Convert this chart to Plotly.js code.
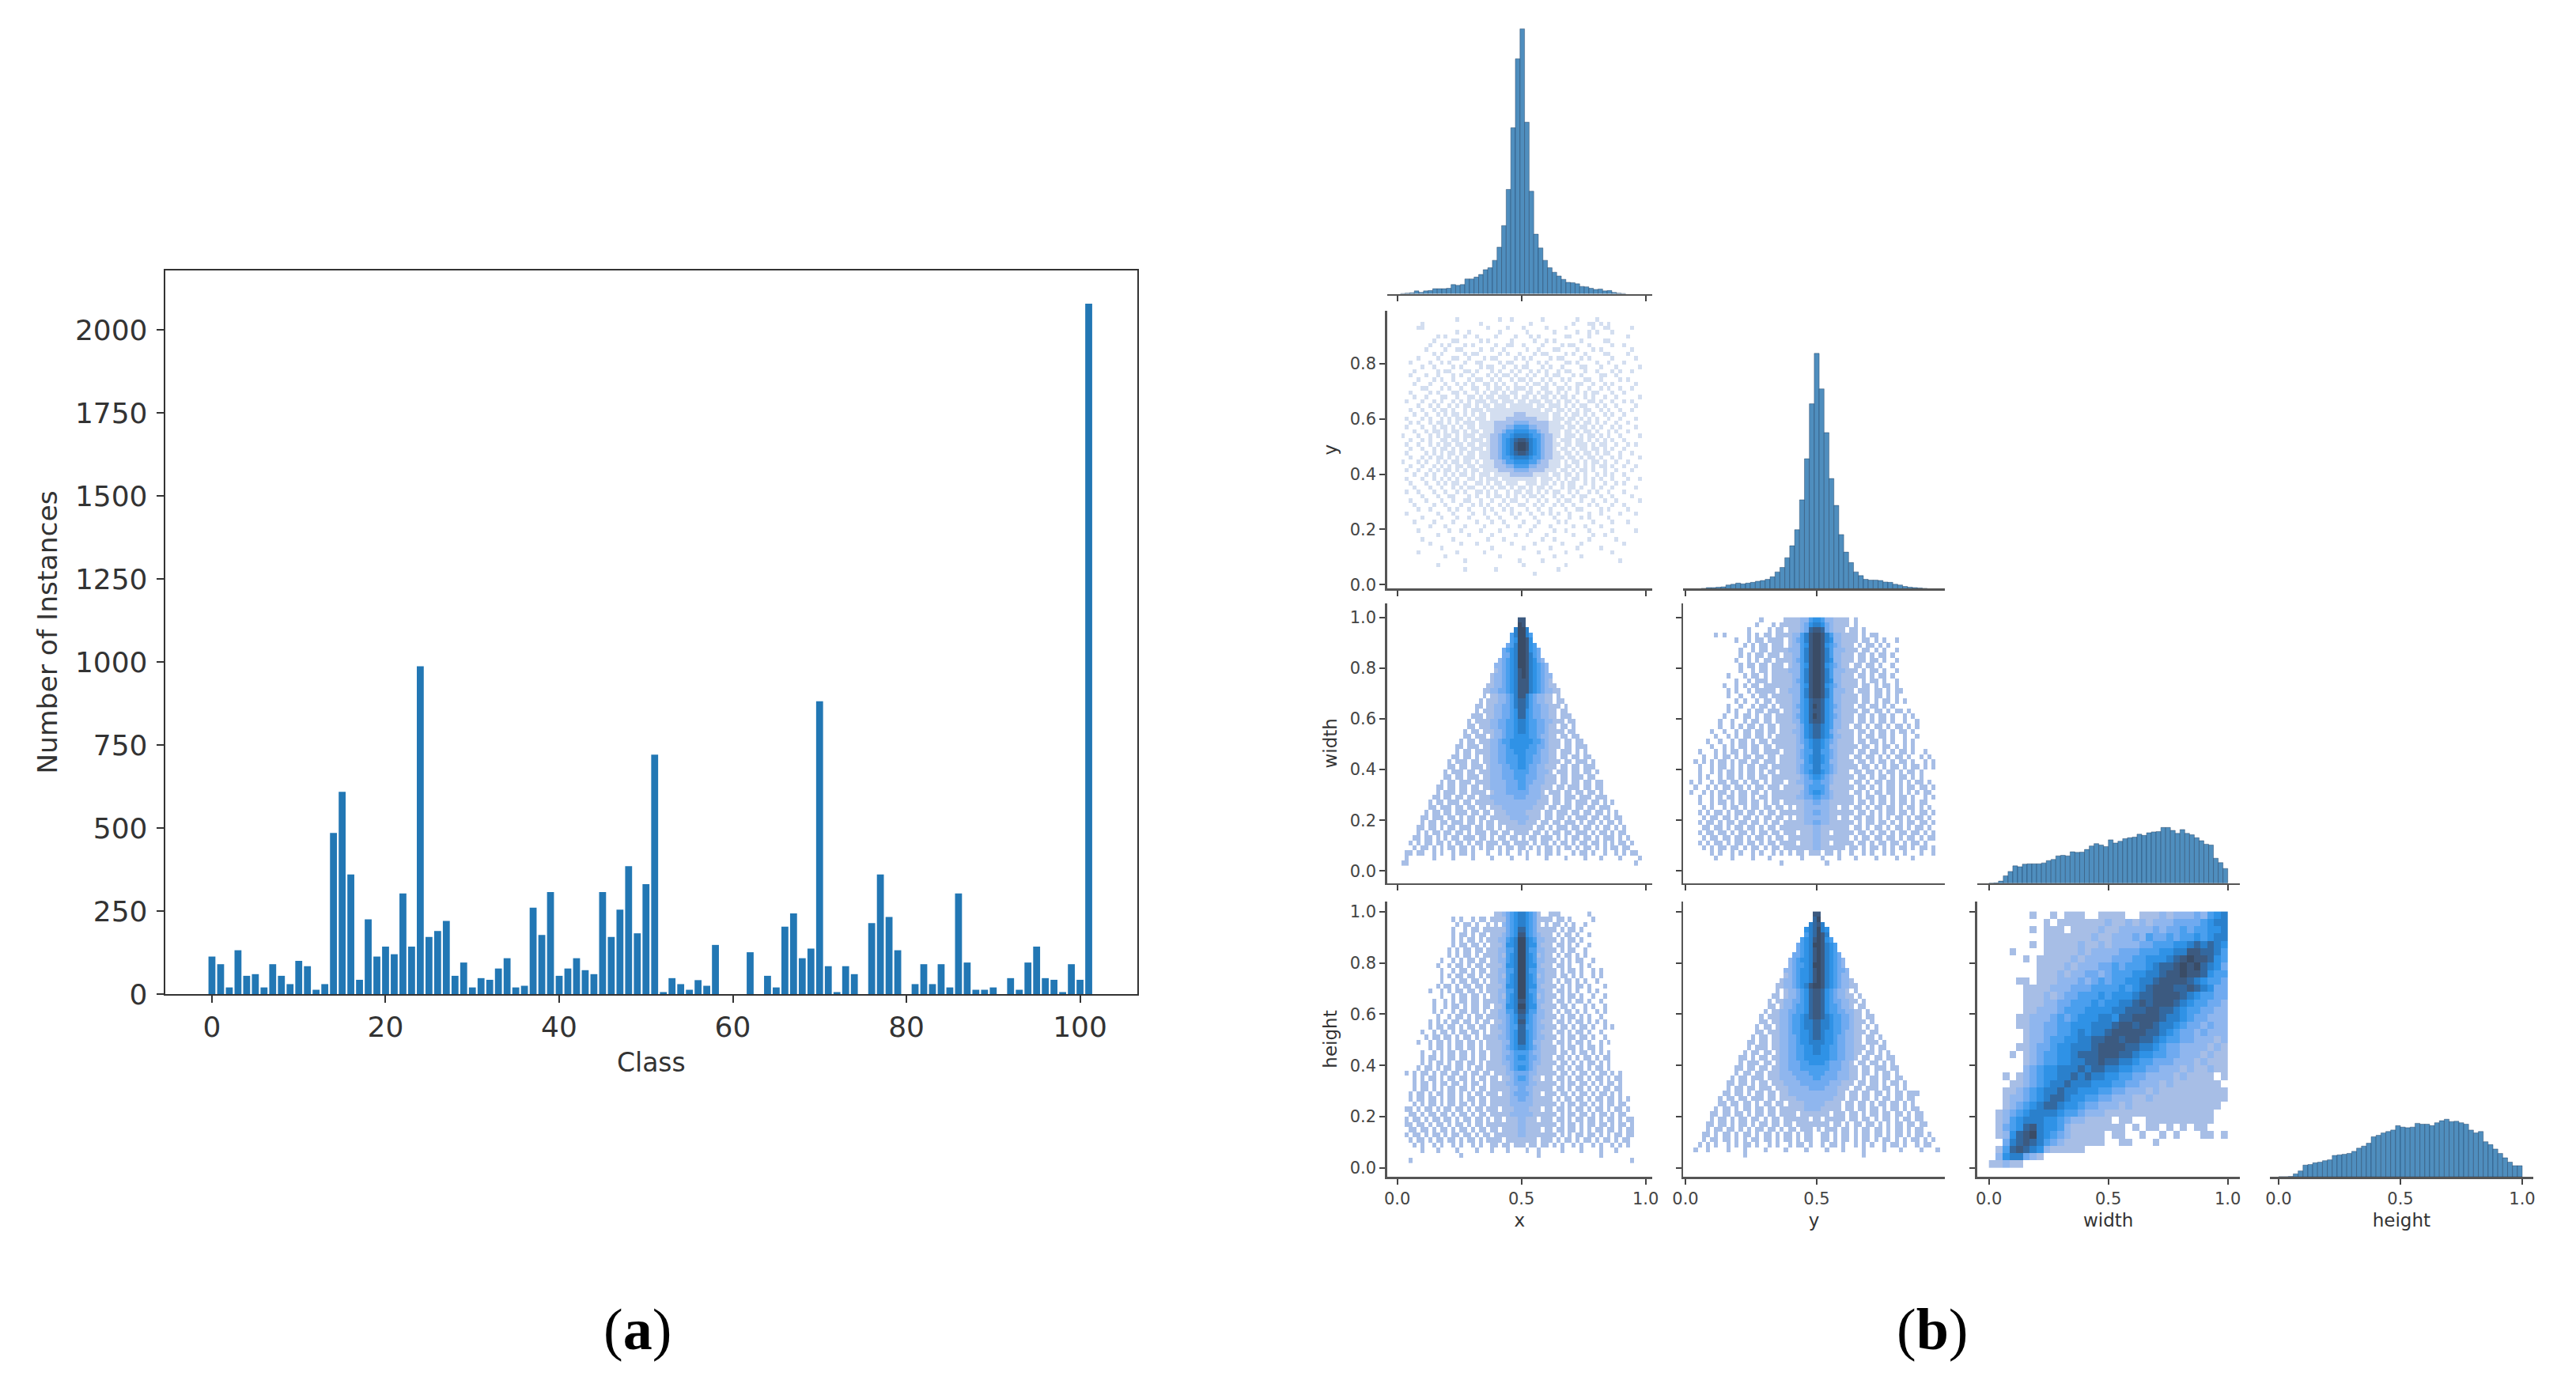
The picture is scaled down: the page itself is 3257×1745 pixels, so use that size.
<!DOCTYPE html>
<html><head><meta charset="utf-8">
<script src="https://cdn.plot.ly/plotly-3.0.1.min.js"></script>
<style>html,body{margin:0;padding:0;background:#fff}</style></head>
<body><div id="chart" style="width:3257px;height:1745px"></div>
<script>
// ---------- panel (a) ----------
const classValues = [113,90,20,132,55,60,20,90,55,30,100,84,13,30,485,609,360,43,225,113,143,120,303,143,987,172,190,220,55,95,20,48,43,77,108,20,25,260,178,307,55,77,108,72,60,307,172,254,385,183,331,721,6,48,30,13,42,25,148,0,0,0,126,0,55,20,203,243,108,137,882,84,6,84,60,0,214,360,232,132,0,30,90,30,90,20,303,95,13,13,20,0,48,13,95,143,48,43,6,90,43,2079];
const classTicks = [0,20,40,60,80,100];
const countTicks = [0,250,500,750,1000,1250,1500,1750,2000];

// ---------- panel (b) diagonal histograms (counts in arbitrary picture units) ----------
const xHist = [1,2,3,8,4,8,9,14,14,14,15,25,23,25,40,40,45,52,65,70,90,125,183,280,445,630,710,460,275,160,123,90,70,58,48,39,31,30,27,20,19,15,12,13,8,9,4,2,1];
const xHistStart = -26;
const yHist = [1,3,3,4,5,10,12,15,13,15,17,20,22,25,32,45,57,83,115,158,238,348,495,630,535,418,295,223,145,98,70,45,35,25,23,23,22,18,17,12,10,6,4,3,2,1];
const widthHist = [0,1,7,25,40,59,56,65,66,66,66,69,77,81,93,95,93,107,105,106,115,127,135,130,125,148,137,143,152,155,157,167,163,172,175,176,190,190,180,170,183,170,165,155,145,133,130,85,70,50];
const heightHist = [0,0,1,10,20,40,42,48,50,55,58,73,75,77,80,87,98,105,115,137,142,150,155,160,175,170,168,170,183,180,180,175,185,192,197,189,190,185,180,160,150,155,120,110,95,80,65,50,38,38];

// ---------- panel (b) 2-D histograms: one digit per cell, 0 = empty, 1..9 = darkness.
// Rows run top to bottom; "|" marks the middle of the panel.
const yVsXRows = [
"|","|",
"00000000000000010000000000100100|00000100000000100001000000000000",
"00000010000000000000010000000000|00100000000001000110101000000000",
"00000110000000000000000100001000|10000010000100000010011000001000",
"00000000000000010010000000100000|01000000100000100101000100000000",
"00000000001010000100100001000010|00101000000110000100000000010000",
"00000000010000110000010100000100|00010010100000010000011000000000",
"00000000100101000101000001001100|10000100001011000100000100100000",
"00000001000010011000010010010000|01001000110000100010100000001000",
"00000000010100000101100000101001|00010110000101001000011000010000",
"00000100001000110010001011000010|10100001011000010100000100000100",
"00010000100101000100110000101100|01001010000110100001001000100000",
"00000010010000101000010110010010|11000101001000011000100010000010",
"00001000001011000110100010100101|00101010010110001001000101001000",
"00010001001000101001000101011010|01010010110001010000110010000000",
"00000100010100100010110010100101|10100101001010001100100001010000",
"00001000100010010101001101010010|01011010100100110010010100000100",
"00000011000101001001100101101011|10100110011010100100101001001000",
"00010000101000110100101011010110|01101011010100101011000100100000",
"00001001000110010011010110111010|11010110101101001010010010000010",
"00100010010100101010111011011101|10111011010110100110100100101000",
"00000100101001010110101101110111|11101101110101011001010010000100",
"00010010010110100101110111111111|11111011011010101100101001001000",
"00001001001010110101011011111122|21111110110101101010010100100000",
"00100010100101011010111011112222|22221110111011010101001001000100",
"00010100101101010111011112222233|33222221110110101101010010010000",
"00100010010110101011011112223344|44332221111011011010100101000100",
"00001001011010110101101112234455|55443221110110101101001010010000",
"01000100101011010111011122344566|66544322110111010110101001000010",
"00010010100110110101110122345678|87654322101110110101010100100000",
"00100100101011011011011122345689|98654322110110111010110010010100",
"00010010010110101101110122345689|98654322101101011011010100100000",
"00100001010101101011011122345678|87654322110110101101011001001000",
"00010010101101010111011122344566|66544322111011010110100101000010",
"01000101001010110110101112234455|55443221110101101011010010010000",
"00010010010101011011011112223344|44332221110110101010110100100100",
"00100100101011010101101111222233|33222211101101011010010010001000",
"00001001010010101101011101111222|22211110110110101001010100100000",
"00100010010101010011010111011111|11110111010101101010100100010010",
"00010001001010110100110101101110|01110110101011001010010010100000",
"00001000100100101011001010110101|10101101001011010010100100000100",
"00100100010010010100110101001011|01101010110010100101001000100000",
"00000010001001100010100101101010|10110100101001011000100100001000",
"00010001000100100110010010010110|01001010010110010010010010000010",
"00001000010010001001010100101001|10010100101001000101000100100000",
"00000100100001010010001010010100|01001001000100110000101000010000",
"00100000001000100001001001000101|00100101010010000100100001000100",
"00000010000100010010000100100010|00010000100010010100001000000000",
"00001000010000100000100010010000|10001000010100000010000100010000",
"00000000100010000100001000001001|00010001000001001000100000000000",
"00000100000001001000010000100000|00100000100100000100000100000100",
"00000000001000000010000010000010|01000010000001000010010000000000",
"00000010000000100000000100010000|00000100100000000100000010000000",
"00000000100000001000100000000100|00010000001000010000000000100000",
"00000000000100000000000010000000|10000001000000100000100000000000",
"00000100000000010000001000000000|00001000000100000000000100000000",
"00000000000010000000000000100000|00000000100000010000000000000000",
"00000000000000000100000000000001|00000100000000000000000001000000",
"00000000001000000000000000000000|10000000000100000000000000000000",
"00000000000000000100000001000000|00000000010000000000000000000000",
"00000000000000000000000000000000|00010000000000000000000000000000",
"|","|"];

const widthXRows = [
"8|8","9|8","69|96","469|964","459|985","3469|9854","34569|98543","33569|98643","234569|986532","2234569|9865432","1234568|9865432",
"12234568|98654322","12234568|88654321","112234568|886543211","1122334568|8865432211",
"1011223468|8643221101","10111223467|76432211011","110112233467|764332211101","101112233457|754332211011",
"1110112233457|7543322110111","10111122334456|65443322111011","11011122334456|65443321101101",
"101101112234456|654433211110110","110111012234455|554432211011011","1011011122344555|5554432111011011",
"11011101122334555|55443321110110111","10110111122334455|54443221101110101","110110101122334445|544332211011011011",
"1011101101122334445|5443322111011011101","1101101110122233445|5433221110110110111","10111011011122233344|44332221011101101101",
"11011011101122233344|43332211101101110110","101101110111122223334|433222111011011011011","1101101101101122223334|432221110110111011011",
"1011101101111012223333|332221011101101101101","11011011011011122222233|3222211011011101110111","101101110110111112222222|222211101101101110110101",
"110111011011011011122222|222111011011101101101110","1011011011101101101112222|2111101101110110110110101","11011101101011011011111222|22111011011010111011011011",
"10110110111011010110111112|21110110110111010110101101","110110101101110110110101111|111011010111011011010110101","101011011011010111011011011|110110101101101110101101011",
"1101101010110111011010110110|1011011101010110110101110101","10101101101011010110111011011|11010110101101011011010101101","01011010101101101010110101101|10101011010110101101010110110",
"110110010100101101000100101001|010010110100010110100100101011","0100000010000100001000010000100|0100001000010000100010000100001","1100000000000000000000000000000|0000000000000000000000000000010"];

const widthYRows = [
"10000011112245|54221111010",
"100010111112356|6532111101",
"10000101101112378|87321110110100",
"1010000010101101111224689|9864221111010110000",
"001001011011110"+"1234689|9865221"+"11101101010010",
"0010101101110"+"1224589|9854321"+"1101011010100",
"0100101101111"+"2224689|9864222"+"1110110101001",
"00101011011101"+"1224689|9864221"+"11011010110100",
"1001010110111"+"1234689|9865221"+"1101101101001",
"0101101101110"+"1224589|9854321"+"1011011010010",
"00100101101111"+"2224689|9864222"+"1110101101001",
"100010110101111"+"1224689|9864221"+"11011010110100",
"001001011101111"+"1234689|9865221"+"11101011010010",
"1001010110111111"+"1224589|9854321"+"111011010110100",
"00101001011111011"+"2224689|9864222"+"110111011010110",
"0100100101101111"+"1224689|9864221"+"111011011010100",
"0001010010110111"+"1224578|8754221"+"111011010110101",
"100100101101011"+"1234579|8754321"+"11011011010100",
"00101001011011101"+"1224578|8754221"+"111011011010110100",
"01001011010110111"+"1234579|8754321"+"11011010110100101",
"10010010110110111"+"1224578|8754221"+"110110101101001001",
"010010101101011011"+"1123567|7654221"+"101101011010110101",
"1001001011011011011"+"1223567|7653211"+"110110101101011010",
"0100101011011010111"+"1123567|7654221"+"110101101101001001",
"10010010110101101111"+"1123456|6543211"+"1101101101010010100",
"001001010110110110111"+"1122456|6542211"+"1110110101101010100",
"1000101011010110111101"+"1123446|6443211"+"11011011010101101001",
"0100101101011011011011"+"1123456|6543211"+"101101101010110100101",
"10101011010110110111011"+"1122456|6542211"+"1101101011010110100101",
"01001011010101101101111"+"1123446|6443211"+"1110110101011010110101",
"1001010110101101011011"+"1123456|6543211"+"101101101011010110100",
"01010010110101101101111"+"1112345|5432111"+"11011010110101101010",
"101001011011010110101110"+"1122334|4332111"+"101101011011010101101",
"010010101101101011011101"+"1111344|4431111"+"1101101010110101101101",
"100101011010110110101111"+"1112345|5432111"+"1011010110110101010110",
"01001010110110101101111"+"1122334|4332111"+"1101011011010110100101",
"1001011010110110101101"+"1111223|3221111"+"110110101101011010110",
"0101001011010110110110"+"1011222|2221101"+"1011010110110101101010",
"1010110101101101011011"+"1111223|3221111"+"1101101010110110101101",
"0101101101011010110110"+"1011222|2221101"+"1011011010101101011010",
"1011010110110110101101"+"1111223|3221111"+"1101011011010101101101",
"0110110101101101011011"+"1111112|2111111"+"1011010110101101011010",
"1011011010110101101101"+"1101112|2110111"+"1101101011010110110101",
"0101101101101011010110"+"1111112|2111111"+"1010110110110101101011",
"1010110101101101011011"+"1101112|2110111"+"1101101011011010110100",
"0101011011010110101101"+"1111112|2111111"+"0110101101010110101101",
"0001010010100101001010"+"1011011|1011010"+"0100101001010010001001",
"0000100010000100010000"+"0001000|0100010"+"0010000100001000100000",
"00000100000000|00100000000000"];

const heightXRows = [
"1123456|6543100"+"1110000000100",
"10100101101"+"1113456|6543111"+"1011010000010",
"01011010010"+"1023456|6543101"+"01101010010",
"10010110111"+"1113457|7543111"+"11010110100",
"10110101101"+"1123458|8543211"+"10101101001",
"10101101011"+"1224569|9654221"+"11010110100",
"010110110101"+"1125569|9655211"+"101101010010",
"101011011011"+"1224469|9644221"+"110101100100",
"0101011010111"+"1214569|9654121"+"101011010100",
"10010101101101"+"1224569|9654221"+"1101010110010",
"0100101101011011"+"1125569|9655211"+"101101001010",
"10010110101101"+"1224469|9644221"+"11010110100101",
"010101101101011"+"1214569|9654121"+"110110101001010",
"10010110110101"+"1224569|9654221"+"10101101010010",
"0101101011011011"+"1125569|9655211"+"1101010110100010",
"10010101101101011"+"1224469|9644221"+"10110101001010",
"010010110110101"+"1214569|9654121"+"110101101001001",
"1001010110110111"+"1224568|8654221"+"101101011010010",
"01001011010110110"+"1125569|9655211"+"110110100101001",
"1010010110110101"+"1224468|8644221"+"101011010100101",
"0100101101011011"+"1223457|7543221"+"11010110101001",
"10101011011010110"+"1123458|8543211"+"1011010110101010",
"010110110101101101"+"1223447|7443221"+"11011010110100101",
"1001011010110110101"+"1123457|7543211"+"101101011010010",
"0101101101011010111"+"1223457|7543221"+"1101011011010010",
"10010110101101101011"+"1122457|7542211"+"10110101101001010",
"010110101101101011"+"1123456|6543211"+"1101011010110100",
"1001010110110101101"+"1122344|4432211"+"110110101101010100",
"01011010110110101101"+"1123345|5433211"+"10110101011010110",
"1010110101101101011"+"1122344|4432211"+"11011010101101010",
"010110101101101011011"+"1112345|5432111"+"101101011010110100",
"10101101011011010110110"+"1112233|3322111"+"1101101011010110101",
"0101011010110110101101"+"1011234|4321101"+"10110101101011010110",
"101101011011010110101"+"1112233|3322111"+"1101011011010101101",
"0101101010110110101101"+"1111223|3221111"+"10110101101010110110",
"1011010110110101011011"+"1011233|3321101"+"1101101011010110101",
"01011011010110101101101"+"1111223|3221111"+"101011011010110110101",
"101011010110110101101"+"1111222|2221111"+"11010110110101011011",
"11010110101101101011011"+"1011122|2211101"+"101101011010110101101",
"01101011011010110101101"+"1111222|2221111"+"110101101101011010110",
"10110101101101011011010"+"1101112|2111011"+"1011010110110101101011",
"11011010110101101011011"+"1111112|2111111"+"1101011010110110101101",
"01101101011010110101101"+"1011112|2111101"+"1011011010101101101011",
"10110101101011011010110"+"1111112|2111111"+"1101010110110101011011",
"01011010110110101101011"+"1101111|1111011"+"1010110101101011010110",
"00101001010010100101001"+"1011011|1011011"+"0101001010010100101010",
"00001000100001000010001"+"0001000|0100100"+"0001000010000100010000",
"00000001000000000000000|000010000000000000001000",
"10000000000000000000000000000|00000000000000000000000000001"];

const heightYRows = [
"8|8","7|9","67|86","567|965","467|986","4568|9854","34569|98654","34568|98654","334568|986543","2345568|9865432","2344569|9865432",
"22345568|98654332","12345568|98654322","122345568|986543221","1122345689|9865432211",
"1012234578|8754322101","11012234578|87543221101","101122334578|875433221101","110122344578|875443221011","1011223344578|8754433221101",
"10111223445678|87654433211011","11011223445667|76654433211101","101101223445667|766544332110101","110111223445567|765544322111011",
"1011011223345567|7655433221101101","11011011223345566|66554332211011101","10111011223344556|65544332211101011","101101101223344556|655443322110110101",
"1101011011223344555|5554433221011011011","1011101101223334455|5543332210110110101","11011011011223334444|44433322110110111011","10110110111222333344|44333222110110101101",
"101101110111222233334|433332221101011011011","1101101011011122223333|3332221110110110101101","1011011011101112222233|3322211101101110110101","11011010110110112222222|2222211011011011010110111",
"101101101110110111122222|222211101101101011011011","110110110101101101111222|221111011011010110110101","1011010110110110111111222|2111110110110110101101011","11011011010110110111101111|11101110110101101101101011",
"10110101101101011011111101|10111110110110101101011011","110110101101011011011011111|111011010110110101011011011","101101101010110110101101110|101110110101101101011010110","1101011010110101101011010110|0110101101011011010110101101",
"01011011010101101101011010110|01101011010110101101010110101","10101001010110100101001011010|01011010010101001011010010110","100100001000100001000010000100|001000100001000010001000010001","000000000000100000000000000000|000000000001000000000000000000"];

const heightWidthRows = [
"00000010010111001111001112122232456",
"00000000101111111211212122233334566",
"00000010111011112112222232334344556",
"00000000111111121122232433434454566",
"00000010111112112122223344455676765",
"00010000111112122223334445566887764",
"00000101111121222233344555678988754",
"00000001111212223343444567789897653",
"00000001112122332344455667889887544",
"00001101112223234344556678888765443",
"00000111122233344445456788877876533",
"00000111212334445455567788887654433",
"00000111223344454556678788876544332",
"00000112223444555566777887765443322",
"00001122234345556657788887665433222",
"00001122334455566678878876654332322",
"00000122334456566788888776543323222",
"00000122344556677887887765443322212",
"00001123345566678888776654332222121",
"00010123445567778887765544332221211",
"00000123445566778776654433322212111",
"00000234556667677665544332221211211",
"00101234556676766554433222212111101",
"00011234566766655544332221211111110",
"00112345667665554433222121111111111",
"00122345677655443322211211111111111",
"00123456776554332221211111111111110",
"01234566665443222111111111111111100",
"01245666554322111101100111111111100",
"01345786554211111111010110101011000",
"01257896543211111011001001010001101",
"00367876432111111001100010000000000",
"01478765211111000000000000000000000",
"02566321000000000000000000000000000",
"11211000000000000000000000000000000"];

// ---------- axis label lists ----------
const unitTicks = [0,0.5,1];
const unitTickText = ["0.0","0.5","1.0"];
const fifthTicks = [0,0.2,0.4,0.6,0.8,1];
const fifthText = ["0.0","0.2","0.4","0.6","0.8","1.0"];
const yFifthTicks = [0,0.2,0.4,0.6,0.8];
const yFifthText = ["0.0","0.2","0.4","0.6","0.8"];

// ---------- geometry in page pixels ----------
const W = 3257, H = 1745;
const cols = [
  {l:1753.8, r:2089,   range:[-0.0408,1.0268]},
  {l:2128,   r:2459,   range:[-0.009,0.988]},
  {l:2499.7, r:2831.6, range:[-0.0497,1.0493]},
  {l:2870,   r:3202.7, range:[-0.0357,1.0445]}];
const rows = [
  {t:35.6, b:371.6},
  {t:393,  b:744.4, range:[-0.015,0.992]},
  {t:763,  b:1116.7, range:[-0.048,1.055]},
  {t:1140, b:1488,  range:[-0.034,1.039]}];
const domX = (a,b)=>[a/W,b/W], domY = (t,b)=>[1-b/H,1-t/H];

function parseRows(list, n){
  return list.map(s=>{
    const out=new Array(n).fill(null);
    if(!s.includes('|') && s.length===n){
      for(let i=0;i<n;i++){ const c=+s[i]; if(c>0) out[i]=c; }
      return out;
    }
    const [left,right]=s.split('|');
    const half=Math.floor(n/2);
    for(let i=0;i<left.length&&i<half;i++){ const c=+left[left.length-1-i]; if(c>0) out[half-1-i]=c; }
    for(let i=0;i<right.length&&i<half;i++){ const c=+right[i]; if(c>0) out[half+i]=c; }
    return out;
  });
}
const cs = ["#a7bee6","#8fb6ee","#6faaf0","#4a9fee","#2f92e6","#2a80cc","#33689f","#3c5a80","#3a4c66"];
const cscale = cs.map((c,i)=>[i/8,c]);
const paleScale = ["#d3def0","#a7c0ec","#83b2ef","#4a9fee","#2f92e6","#2a80cc","#33689f","#3c5a80","#3a4c66"].map((c,i)=>[i/8,c]);

const data = [], layout = {
  width:W, height:H, margin:{l:0,r:0,t:0,b:0}, autosize:false, showlegend:false,
  paper_bgcolor:'#fff', plot_bgcolor:'rgba(0,0,0,0)', bargap:0.2,
  font:{family:'"DejaVu Sans"', color:'#333'}, annotations:[]
};

// panel (a)
data.push({type:'bar', x:classValues.map((_,i)=>i), y:classValues, width:0.8,
  marker:{color:'#2277b4',line:{width:0}}, xaxis:'x', yaxis:'y', hoverinfo:'skip'});
const bigTick = {ticks:'outside', ticklen:9, tickwidth:2, tickcolor:'#333', tickfont:{size:36,color:'#333',family:'"DejaVu Sans"'},
  showgrid:false, zeroline:false, showline:true, mirror:true, linecolor:'#333', linewidth:2, automargin:false};
layout.xaxis = Object.assign({}, bigTick, {domain:domX(208.7,1438), range:[-5.4,106.6], tickmode:'array', tickvals:classTicks, ticktext:classTicks.map(String),
  title:{text:'Class', font:{size:33,color:'#333'}, standoff:14}});
layout.yaxis = Object.assign({}, bigTick, {domain:domY(342,1257), range:[0,2179], tickmode:'array', tickvals:countTicks, ticktext:countTicks.map(String),
  ticklabelstandoff:4, title:{text:'Number of Instances', font:{size:34.5,color:'#333'}, standoff:12}});

// panel (b)
let axisIndex = 2;
function addCell(c, r, trace, opts){
  const k = axisIndex++;
  const xn = 'x'+k, yn = 'y'+k;
  trace.xaxis = xn; trace.yaxis = yn; trace.hoverinfo='skip';
  data.push(trace);
  const C = cols[c], R = rows[r];
  const axisBase = {showgrid:false, zeroline:false, showline:true, linecolor:'#555', linewidth:2.5, automargin:false,
    ticks:'outside', ticklen:7, tickwidth:2, tickcolor:'#444', tickfont:{size:21,color:'#444',family:'"DejaVu Sans"'}};
  layout['xaxis'+k] = Object.assign({}, axisBase, {domain:domX(C.l,C.r), range:C.range, anchor:yn, tickmode:'array', tickvals:unitTicks,
    ticktext:unitTickText, showticklabels:r===3, title:opts.xTitle?{text:opts.xTitle,font:{size:23,color:'#333'},standoff:8}:undefined});
  if(opts.diag){
    layout['yaxis'+k] = {domain:domY(R.t,R.b), range:[0,opts.top], anchor:xn, visible:false};
  } else {
    const isY = r===1;
    layout['yaxis'+k] = Object.assign({}, axisBase, {domain:domY(R.t,R.b), range:R.range, anchor:xn, tickmode:'array',
      tickvals:isY?yFifthTicks:fifthTicks, ticktext:isY?yFifthText:fifthText, showticklabels:c===0,
      title:opts.yTitle?{text:opts.yTitle,font:{size:23,color:'#333'},standoff:10}:undefined});
  }
}
const histMarker = {color:'#4f8ebe', line:{color:'rgba(20,50,85,0.4)',width:1}};
const barTrace = (vals, x0, dx)=>({type:'bar', x:vals.map((_,i)=>x0+i*dx), y:vals, width:dx, marker:histMarker});
const heat = (list, n, x0, dx, y0, dy, scale)=>({type:'heatmap', z:parseRows(list,n), x0, dx, y0, dy, zmin:1, zmax:9, colorscale:scale||cscale, showscale:false, hoverongaps:false});

const xBin = 0.0185, wBin = 0.02, cell = 1/64;
addCell(0,0,barTrace(xHist,0.5035+xHistStart*xBin,xBin),{diag:true,top:712});
addCell(0,1,heat(yVsXRows,64,cell/2,cell,1-cell/2,-cell,paleScale),{yTitle:'y'});
addCell(1,1,barTrace(yHist,0.5-23*0.0187,0.0187),{diag:true,top:744});
addCell(0,2,heat(widthXRows,64,cell/2,cell,0.99,-wBin),{yTitle:'width'});
addCell(1,2,heat(widthYRows,64,cell/2,cell,0.99,-wBin),{});
addCell(2,2,barTrace(widthHist,0.01,wBin),{diag:true,top:955});
addCell(0,3,heat(heightXRows,64,cell/2,cell,0.99,-wBin),{yTitle:'height',xTitle:'x'});
addCell(1,3,heat(heightYRows,64,cell/2,cell,0.99,-wBin),{xTitle:'y'});
addCell(2,3,heat(heightWidthRows,35,0.5/35,1/35,1-0.5/35,-1/35),{xTitle:'width'});
addCell(3,3,barTrace(heightHist,0.01,wBin),{diag:true,top:942,xTitle:'height'});

// captions
const captions = [{t:'(<b>a</b>)',x:806},{t:'(<b>b</b>)',x:2443}];
captions.forEach(c=>layout.annotations.push({xref:'paper',yref:'paper',x:c.x/W,y:1-1681/H,text:c.t,showarrow:false,
  xanchor:'center',yanchor:'middle',font:{family:'"Liberation Serif"',size:74,color:'#000'}}));

Plotly.newPlot('chart',data,layout,{staticPlot:true,displayModeBar:false});
</script></body></html>
